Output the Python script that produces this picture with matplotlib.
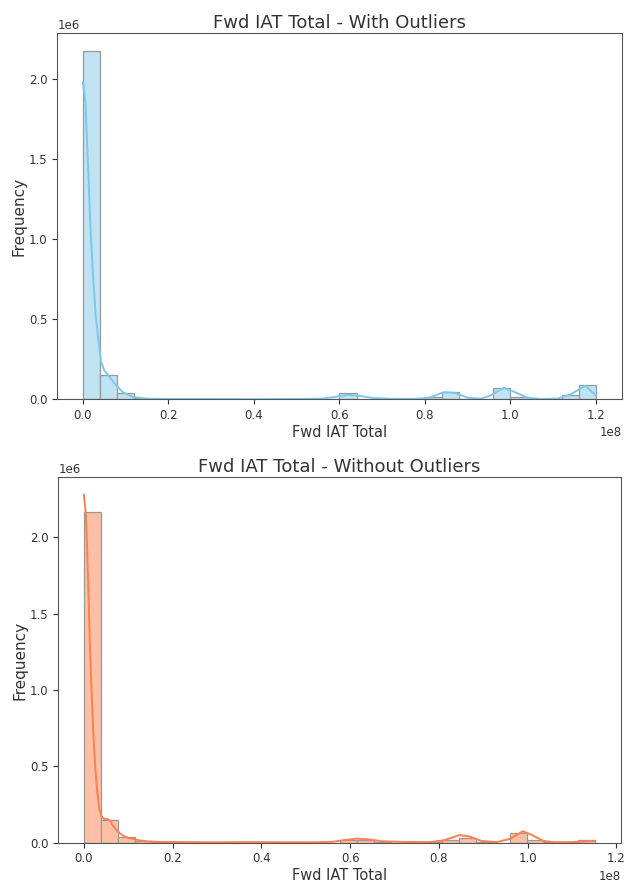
import numpy as np
import matplotlib.pyplot as plt

# Histogram bin counts (30 bins each)
with_counts = [2177000, 154000, 42000, 8000, 2000, 1500, 1000, 800, 600, 500,
               500, 400, 400, 500, 800, 37000, 4000, 1500, 1000, 1500,
               17000, 46000, 3000, 1000, 69000, 17000, 1500, 1000, 25000, 92000]
without_counts = [2166000, 150000, 40000, 10000, 2500, 1500, 1000, 800, 800, 600,
                  700, 500, 500, 600, 800, 17000, 18000, 2000, 1200, 1000,
                  1500, 18000, 33000, 1500, 1000, 65000, 18000, 1500, 1500, 15000]
with_max = 1.2e8
without_max = 1.1525e8

# Density curves (x in units of 1e6, counts in units of 1e6)
with_kde_x = [0, 0.6, 1.2, 1.8, 2.4, 3.0, 3.5, 4.2, 5.0, 6.2, 7.7, 9.2, 11.5, 14.6,
              20, 30, 40, 50, 56, 59, 62, 65, 68, 72, 78, 81, 84.5, 87, 90, 93,
              95, 98.5, 101, 104, 107, 111, 114, 117.5, 120]
with_kde_y = [1.98, 1.85, 1.45, 1.05, 0.75, 0.52, 0.40, 0.24, 0.18, 0.14, 0.09, 0.047,
              0.016, 0.004, 0.002, 0.002, 0.001, 0.002, 0.004, 0.015, 0.028, 0.02,
              0.008, 0.003, 0.003, 0.01, 0.045, 0.04, 0.01, 0.003, 0.02, 0.072,
              0.045, 0.01, 0.002, 0.004, 0.03, 0.085, 0.025]
without_kde_x = [0, 0.45, 0.9, 1.4, 1.85, 2.2, 2.6, 3.0, 3.5, 4.0, 4.6, 5.3, 5.9, 6.6,
                 7.4, 8.2, 8.9, 10, 11.2, 12.5, 14.2, 17, 22, 30, 38, 45, 52, 56, 59,
                 61.5, 64, 67, 72, 78, 81, 84.6, 87, 89.5, 93, 96, 98.9, 101, 103.5,
                 106, 110, 113, 115.2]
without_kde_y = [2.28, 2.15, 1.78, 1.25, 0.91, 0.68, 0.48, 0.34, 0.22, 0.17, 0.155,
                 0.155, 0.145, 0.11, 0.08, 0.06, 0.045, 0.032, 0.024, 0.015, 0.009,
                 0.005, 0.004, 0.003, 0.004, 0.003, 0.003, 0.006, 0.018, 0.027, 0.022,
                 0.01, 0.005, 0.004, 0.015, 0.05, 0.04, 0.012, 0.004, 0.025, 0.075,
                 0.05, 0.012, 0.003, 0.004, 0.01, 0.012]

panels = [
    ("Fwd IAT Total - With Outliers", with_counts, with_max, with_kde_x, with_kde_y,
     "#bfe3f2", "#7cc8ea", [0.0905, 0.5483, 0.8915, 0.414]),
    ("Fwd IAT Total - Without Outliers", without_counts, without_max, without_kde_x,
     without_kde_y, "#fdbfa6", "#ff7f50", [0.0921, 0.0467, 0.8889, 0.4133]),
]

fig = plt.figure(figsize=(6.33, 8.84), dpi=100)

for title, counts, xmax, kx, ky, fill, line, rect in panels:
    ax = fig.add_axes(rect)
    edges = np.linspace(0, xmax, len(counts) + 1)
    ax.bar(edges[:-1], counts, width=np.diff(edges), align='edge',
           color=fill, edgecolor='#999999', linewidth=0.9)
    ax.plot(np.array(kx) * 1e6, np.array(ky) * 1e6, color=line, linewidth=1.4)
    top = max(max(counts), max(ky) * 1e6)
    ax.set_xlim(-0.05 * xmax, 1.05 * xmax)
    ax.set_ylim(0, 1.05 * top)
    ax.set_xticks(np.arange(0, 1.21e8, 0.2e8))
    ax.set_yticks(np.arange(0, 2.1e6, 0.5e6))
    ax.set_title(title, fontsize=13, color='#333333', pad=4)
    ax.set_xlabel('Fwd IAT Total', fontsize=10.5, color='#333333', labelpad=2)
    ax.set_ylabel('Frequency', fontsize=11, color='#333333', labelpad=2)
    ax.tick_params(labelsize=8.5, colors='#333333', length=3.5)
    ax.xaxis.get_offset_text().set_fontsize(8.5)
    ax.yaxis.get_offset_text().set_fontsize(8.5)
    for s in ax.spines.values():
        s.set_color('#555555')

plt.savefig('out.png')
